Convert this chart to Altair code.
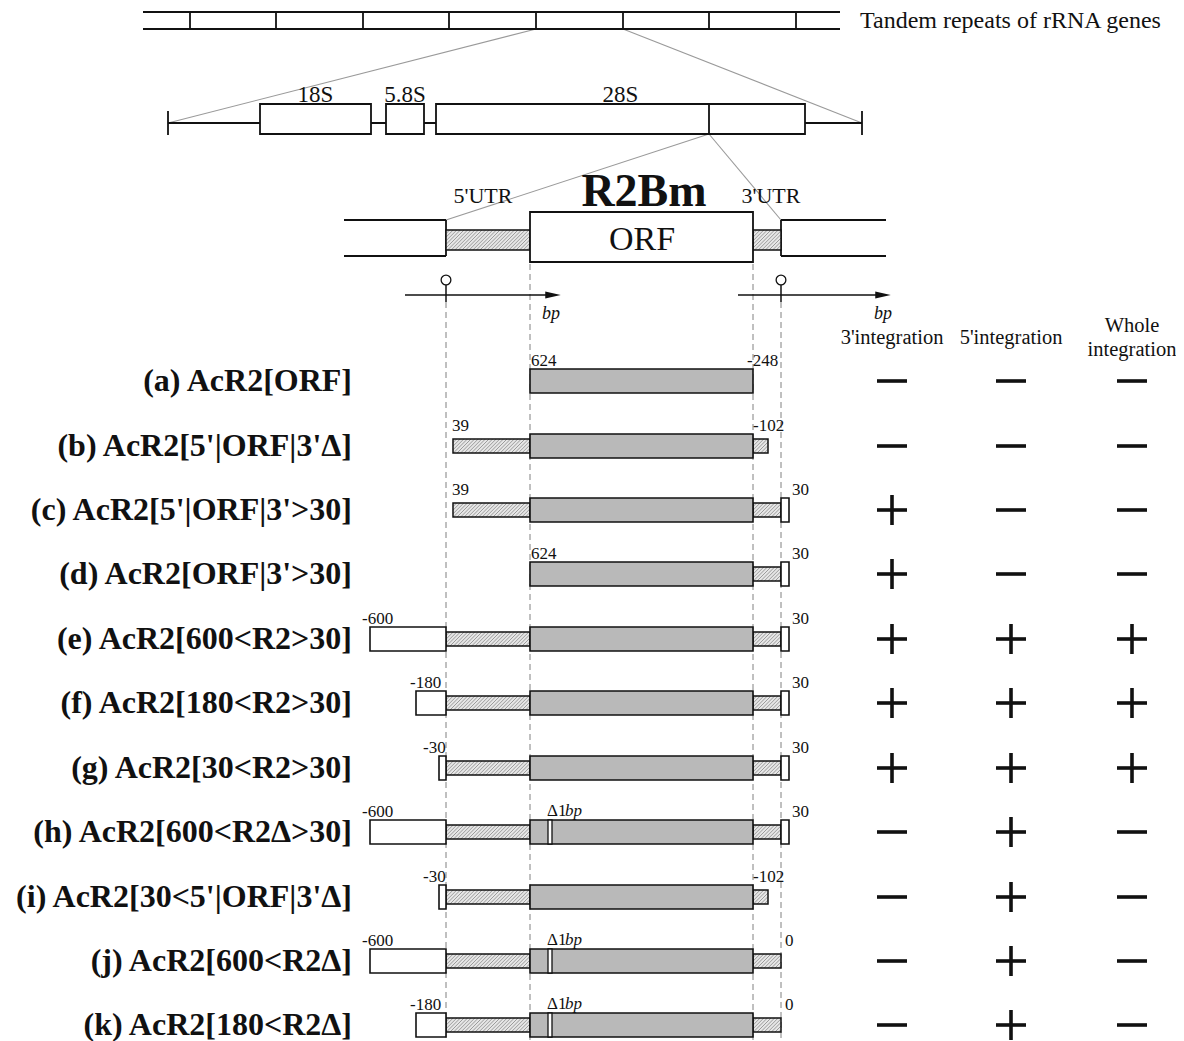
import altair as alt
import pandas as pd

# ---------------- level 1: tandem repeats of rDNA units ----------------
repeat_span = [143, 840]
repeat_lines_y = [12, 29]
repeat_ticks = [190, 276, 363, 449, 536, 623, 709, 796]
repeat_label = "Tandem repeats of rRNA genes"

# ---------------- level 2: one rDNA unit ----------------
unit_span = [168, 862]
unit_y = 123
rRNA_names = ["18S", "5.8S", "28S"]
rRNA_start = [260, 386, 436]
rRNA_end = [371, 424, 805]
r2_site = 709

# ---------------- level 3: R2Bm element (schematic coordinates) ----------------
anchor = {
    "flank_l": 344, "up600": 370, "up180": 416, "up30": 439, "utr5": 446,
    "s39": 453, "orf_s": 530, "delta": 548, "delta_e": 552, "orf_e": 753,
    "d102": 768, "utr3": 781, "d30": 789, "flank_r": 886,
}

# ---------------- constructs ----------------
construct_names = [
    "(a) AcR2[ORF]",
    "(b) AcR2[5'|ORF|3'Δ]",
    "(c) AcR2[5'|ORF|3'>30]",
    "(d) AcR2[ORF|3'>30]",
    "(e) AcR2[600<R2>30]",
    "(f) AcR2[180<R2>30]",
    "(g) AcR2[30<R2>30]",
    "(h) AcR2[600<R2Δ>30]",
    "(i) AcR2[30<5'|ORF|3'Δ]",
    "(j) AcR2[600<R2Δ]",
    "(k) AcR2[180<R2Δ]",
]
row_y = [381, 446, 510, 574, 639, 703, 768, 832, 897, 961, 1025]

ORF = ("orf", "orf_s", "orf_e")
construct_parts = [
    [ORF],
    [("hatch", "s39", "orf_s"), ORF, ("hatch", "orf_e", "d102")],
    [("hatch", "s39", "orf_s"), ORF, ("hatch", "orf_e", "utr3"), ("box", "utr3", "d30")],
    [ORF, ("hatch", "orf_e", "utr3"), ("box", "utr3", "d30")],
    [("box", "up600", "utr5"), ("hatch", "utr5", "orf_s"), ORF, ("hatch", "orf_e", "utr3"), ("box", "utr3", "d30")],
    [("box", "up180", "utr5"), ("hatch", "utr5", "orf_s"), ORF, ("hatch", "orf_e", "utr3"), ("box", "utr3", "d30")],
    [("box", "up30", "utr5"), ("hatch", "utr5", "orf_s"), ORF, ("hatch", "orf_e", "utr3"), ("box", "utr3", "d30")],
    [("box", "up600", "utr5"), ("hatch", "utr5", "orf_s"), ORF, ("hatch", "orf_e", "utr3"), ("box", "utr3", "d30")],
    [("box", "up30", "utr5"), ("hatch", "utr5", "orf_s"), ORF, ("hatch", "orf_e", "d102")],
    [("box", "up600", "utr5"), ("hatch", "utr5", "orf_s"), ORF, ("hatch", "orf_e", "utr3")],
    [("box", "up180", "utr5"), ("hatch", "utr5", "orf_s"), ORF, ("hatch", "orf_e", "utr3")],
]
has_delta = [False, False, False, False, False, False, False, True, False, True, True]
left_labels = ["624", "39", "39", "624", "-600", "-180", "-30", "-600", "-30", "-600", "-180"]
right_labels = ["-248", "-102", "30", "30", "30", "30", "30", "30", "-102", "0", "0"]
label_x = {"624": 531, "39": 452, "-600": 362, "-180": 410, "-30": 423,
           "-248": 747, "-102": 753, "30": 792, "0": 785}

integration_3 = ["-", "-", "+", "+", "+", "+", "+", "-", "-", "-", "-"]
integration_5 = ["-", "-", "-", "-", "+", "+", "+", "+", "+", "+", "+"]
integration_w = ["-", "-", "-", "-", "+", "+", "+", "-", "-", "-", "-"]
column_x = [892, 1011, 1132]

FONT = "Liberation Serif"
BIG_H, HATCH_H = 12, 7

# ---------------- scales ----------------
X = alt.X("x:Q", scale=alt.Scale(domain=[8, 1176], nice=False, zero=False), axis=None)
Y = alt.Y("y:Q", scale=alt.Scale(domain=[8, 1041], nice=False, zero=False, reverse=True), axis=None)


def rules(rows, color="#111", width=1.6, dash=None):
    kw = dict(color=color, strokeWidth=width, strokeCap="butt")
    if dash:
        kw["strokeDash"] = dash
    df = pd.DataFrame(rows, columns=["x", "y", "x2", "y2"])
    return alt.Chart(df).mark_rule(**kw).encode(x=X, y=Y, x2="x2:Q", y2="y2:Q")


def rects(rows, fill, stroke="#111", width=1.6):
    df = pd.DataFrame(rows, columns=["x", "x2", "y", "y2"])
    return alt.Chart(df).mark_rect(fill=fill, stroke=stroke, strokeWidth=width).encode(
        x=X, x2="x2:Q", y=Y, y2="y2:Q")


def texts(rows, size, align="center", baseline="middle", weight="normal", style="normal", color="#111"):
    df = pd.DataFrame(rows, columns=["x", "y", "t"])
    return alt.Chart(df).mark_text(font=FONT, fontSize=size, align=align, baseline=baseline,
                                   fontWeight=weight, fontStyle=style, color=color).encode(
        x=X, y=Y, text="t:N")


def hatch_lines(x0, x1, y0, y1, step=3.6):
    out = []
    h = y1 - y0
    t = x0 - h
    while t < x1:
        u0 = max(0.0, x0 - t)
        u1 = min(h, x1 - t)
        if u1 - u0 > 0.3:
            out.append([t + u0, y1 - u0, t + u1, y1 - u1])
        t += step
    return out


layers = []

# ---- level 1 ----
l1 = [[repeat_span[0], yy, repeat_span[1], yy] for yy in repeat_lines_y]
l1 += [[tx, repeat_lines_y[0], tx, repeat_lines_y[1]] for tx in repeat_ticks]

# ---- zoom connectors (thin grey) ----
conn = [
    [repeat_ticks[4], repeat_lines_y[1], unit_span[0], unit_y],
    [repeat_ticks[5], repeat_lines_y[1], unit_span[1], unit_y],
    [r2_site, 134, anchor["utr5"], 220],
    [r2_site, 134, anchor["utr3"], 220],
]
layers.append(rules(conn, color="#9a9a9a", width=1.1))

# ---- level 2 ----
l2 = [[unit_span[0], unit_y, unit_span[1], unit_y],
      [unit_span[0], unit_y - 12, unit_span[0], unit_y + 12],
      [unit_span[1], unit_y - 12, unit_span[1], unit_y + 12]]
layers.append(rules(l1 + l2, width=1.8))
layers.append(rects([[s, e, 104, 134] for s, e in zip(rRNA_start, rRNA_end)], fill="white", width=1.8))
layers.append(rules([[r2_site, 104, r2_site, 134]], width=1.8))
layers.append(texts([[(s + e) / 2, 95, n] for n, s, e in zip(rRNA_names, rRNA_start, rRNA_end)], 23))

# ---- level 3 : R2Bm ----
l3 = []
for yy in (220, 256):
    l3.append([anchor["flank_l"], yy, anchor["utr5"], yy])
    l3.append([anchor["utr3"], yy, anchor["flank_r"], yy])
l3.append([anchor["utr5"], 220, anchor["utr5"], 256])
l3.append([anchor["utr3"], 220, anchor["utr3"], 256])
layers.append(rules(l3, width=1.8))
top_hatch = [[anchor["utr5"], anchor["orf_s"], 230, 250], [anchor["orf_e"], anchor["utr3"], 230, 250]]

# dashed guide lines
guides = [[anchor["orf_s"], 264, anchor["orf_s"], 1041], [anchor["orf_e"], 264, anchor["orf_e"], 1041],
          [anchor["utr5"], 302, anchor["utr5"], 1041], [anchor["utr3"], 302, anchor["utr3"], 1041]]
layers.append(rules(guides, color="#808080", width=1.0, dash=[6, 4]))

# origin markers and bp axes
axes_rows = [[405, 295, 552, 295], [738, 295, 882, 295],
             [anchor["utr5"], 285, anchor["utr5"], 302], [anchor["utr3"], 285, anchor["utr3"], 302]]
layers.append(rules(axes_rows, width=1.5))
heads = pd.DataFrame({"x": [553, 883], "y": [295, 295]})
layers.append(alt.Chart(heads).mark_point(shape="M-1,-0.45L1,0L-1,0.45Z", filled=True, color="#111",
                                          size=240, opacity=1).encode(x=X, y=Y))
origins = pd.DataFrame({"x": [anchor["utr5"], anchor["utr3"]], "y": [280, 280]})
layers.append(alt.Chart(origins).mark_point(shape="circle", filled=True, fill="white", stroke="#111",
                                            strokeWidth=1.3, size=95, opacity=1).encode(x=X, y=Y))
layers.append(texts([[542, 314, "bp"], [874, 314, "bp"]], 18, align="left", style="italic"))

# ---- construct bars ----
hatch_rows, orf_rows, box_rows, delta_rows = list(top_hatch), [], [], []
for yc, parts, dl in zip(row_y, construct_parts, has_delta):
    for kind, a, b in parts:
        x0, x1 = anchor[a], anchor[b]
        if kind == "hatch":
            hatch_rows.append([x0, x1, yc - HATCH_H, yc + HATCH_H])
        elif kind == "orf":
            orf_rows.append([x0, x1, yc - BIG_H, yc + BIG_H])
        else:
            box_rows.append([x0, x1, yc - BIG_H, yc + BIG_H])
    if dl:
        delta_rows.append([anchor["delta"], anchor["delta_e"], yc - BIG_H, yc + BIG_H])

layers.append(rects(hatch_rows, fill="#e6e6e6", stroke="none", width=0))
hl = []
for x0, x1, y0, y1 in hatch_rows:
    hl += hatch_lines(x0, x1, y0, y1)
layers.append(rules(hl, color="#888888", width=0.8))
layers.append(rects(hatch_rows, fill="transparent", width=1.5))
layers.append(rects(orf_rows, fill="#b9b9b9", width=1.6))
layers.append(rects(box_rows, fill="white", width=1.6))
layers.append(rects(delta_rows, fill="white", width=1.3))

# ORF box of R2Bm on top of guides
layers.append(rects([[anchor["orf_s"], anchor["orf_e"], 212, 262]], fill="white", width=1.8))
layers.append(texts([[642, 240, "ORF"]], 34))
layers.append(texts([[644, 192, "R2Bm"]], 46, weight="bold"))
layers.append(texts([[483, 196, "5'UTR"], [771, 196, "3'UTR"]], 22))
layers.append(texts([[860, 21, repeat_label]], 24, align="left"))

# ---- construct labels ----
layers.append(texts([[352, yc, n] for n, yc in zip(construct_names, row_y)], 32, align="right", weight="bold"))
num_rows = [[label_x[l], yc - 15, l] for l, yc in zip(left_labels, row_y)]
num_rows += [[label_x[r], yc - 15, r] for r, yc in zip(right_labels, row_y)]
layers.append(texts(num_rows, 17, align="left", baseline="alphabetic"))
d_rows = [[547, yc - 16, "Δ1"] for yc, dl in zip(row_y, has_delta) if dl]
bp_rows = [[565, yc - 16, "bp"] for yc, dl in zip(row_y, has_delta) if dl]
layers.append(texts(d_rows, 17, align="left", baseline="alphabetic"))
layers.append(texts(bp_rows, 17, align="left", baseline="alphabetic", style="italic"))

# ---- integration table ----
layers.append(texts([[column_x[0], 338, "3'integration"], [column_x[1], 338, "5'integration"],
                     [column_x[2], 326, "Whole"], [column_x[2], 350, "integration"]], 20.5))
signs = []
for col, vals in zip(column_x, [integration_3, integration_5, integration_w]):
    for yc, v in zip(row_y, vals):
        signs.append([col - 15, yc, col + 15, yc])
        if v == "+":
            signs.append([col, yc - 15, col, yc + 15])
layers.append(rules(signs, color="#111", width=3.6))

chart = alt.layer(*layers).properties(
    width=1168, height=1033, padding=0, autosize="none", background="white"
).configure_view(stroke=None)

chart.save("out.html", embed_options={"renderer": "svg", "actions": False})
